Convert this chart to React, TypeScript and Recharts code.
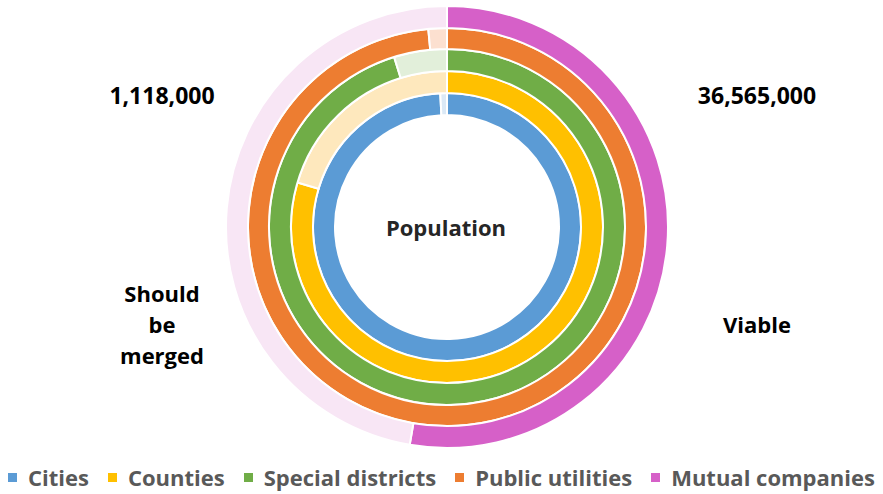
import React from 'react';
import { PieChart, Pie, Cell, Legend } from 'recharts';

const categories = ['Cities', 'Counties', 'Special districts', 'Public utilities', 'Mutual companies'];
const viableShare = [99.2, 79.6, 95.2, 98.5, 52.7];
const mergedShare = [0.8, 20.4, 4.8, 1.5, 47.3];
const darkColors = ['#5b9bd5', '#ffc000', '#70ad47', '#ed7d31', '#d660c8'];
const lightColors = ['#dbe9f6', '#fee8bd', '#e2efda', '#fce0d0', '#f8e6f5'];
const radii = [[112, 134], [134, 156], [156, 178], [178, 199], [199, 221]];

const FONT = '"Open Sans", sans-serif';

const LegendContent = () => (
  <div style={{ display: 'flex', justifyContent: 'center', fontFamily: FONT, fontSize: 22, color: '#595959', fontWeight: 700 }}>
    {categories.map((c, i) => (
      <div key={c} style={{ display: 'flex', alignItems: 'center', marginRight: i < categories.length - 1 ? 19 : 0 }}>
        <span style={{ width: 9, height: 9, background: darkColors[i], display: 'inline-block', marginRight: 11 }} />
        <span>{c}</span>
      </div>
    ))}
  </div>
);

const labelStyle: React.CSSProperties = {
  position: 'absolute', fontFamily: FONT, fontWeight: 700, fontSize: 22, color: '#000',
  textAlign: 'center', transform: 'translate(-50%, -50%)', lineHeight: '31px', whiteSpace: 'nowrap',
};

export default function App() {
  return (
    <div style={{ position: 'absolute', left: 0, top: 0, width: 883, height: 494, background: '#fff' }}>
      <PieChart width={883} height={494} margin={{ top: 0, right: 0, bottom: 0, left: 0 }}>
        {categories.map((c, i) => (
          <Pie
            key={c}
            data={[
              { name: 'Viable', value: viableShare[i] },
              { name: 'Should be merged', value: mergedShare[i] },
            ]}
            dataKey="value"
            cx={447}
            cy={227}
            innerRadius={radii[i][0]}
            outerRadius={radii[i][1]}
            startAngle={90}
            endAngle={-270}
            stroke="#ffffff"
            strokeWidth={2}
            isAnimationActive={false}
          >
            <Cell fill={darkColors[i]} />
            <Cell fill={lightColors[i]} />
          </Pie>
        ))}
        <Legend verticalAlign="bottom" wrapperStyle={{ bottom: 2 }} content={() => <LegendContent />} />
      </PieChart>
      <div style={{ ...labelStyle, left: 446, top: 227, color: '#262626' }}>Population</div>
      <div style={{ ...labelStyle, left: 162, top: 95, fontSize: 23 }}>1,118,000</div>
      <div style={{ ...labelStyle, left: 757, top: 95, fontSize: 23 }}>36,565,000</div>
      <div style={{ ...labelStyle, left: 162, top: 324 }}>Should<br />be<br />merged</div>
      <div style={{ ...labelStyle, left: 757, top: 324 }}>Viable</div>
    </div>
  );
}
